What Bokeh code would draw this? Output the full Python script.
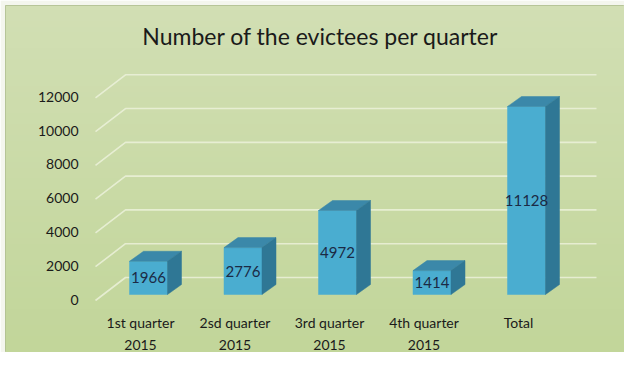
import numpy as np
from bokeh.plotting import figure
from bokeh.models import Range1d
from bokeh.core.properties import value
from bokeh.embed import file_html
from bokeh.resources import INLINE

# ---- data ----
categories = ["1st quarter\n2015", "2sd quarter\n2015", "3rd quarter\n2015", "4th quarter\n2015", "Total"]
evictees = [1966, 2776, 4972, 1414, 11128]
y_ticks = [0, 2000, 4000, 6000, 8000, 10000, 12000]
title_text = "Number of the evictees per quarter"

# ---- layout (pixels of the figure) ----
W, H = 624, 352
M = 5           # white margin left/top
X0 = 148.0      # px of first bar centre
DXC = 94.5      # px between bar centres
Y0 = 294.0      # px (from top) of bar baseline
PXU = 188.0 / 11128.0   # px per unit

def xd(px):
    return (px - X0) / DXC

def yd(py):
    return (Y0 - py) / PXU

UX = 1.0 / DXC   # data per px (x)
UY = 1.0 / PXU   # data per px (y)

p = figure(width=W, height=H, output_backend="svg", toolbar_location=None,
           x_range=Range1d(xd(M), xd(W)), y_range=Range1d(yd(H), yd(M)),
           min_border=0, min_border_left=M, min_border_right=0,
           min_border_top=M, min_border_bottom=0)
p.axis.visible = False
p.grid.visible = False
p.outline_line_color = "#aebd90"
p.outline_line_width = 1
p.background_fill_color = "#c9d9a4"
p.border_fill_color = "#f4f6ee"

# background gradient
n = 64
top = np.array([0xd2, 0xdf, 0xb4])
bot = np.array([0xc2, 0xd6, 0x9a])
img = np.zeros((n, 1), dtype=np.uint32)
view = img.view(dtype=np.uint8).reshape((n, 1, 4))
for r in range(n):
    t = r / (n - 1)  # r=0 is bottom
    c = bot * (1 - t) + top * t
    view[r, 0, 0] = int(c[0]); view[r, 0, 1] = int(c[1]); view[r, 0, 2] = int(c[2]); view[r, 0, 3] = 255
p.image_rgba(image=[img], x=xd(M), y=yd(H), dw=xd(W) - xd(M), dh=yd(M) - yd(H))

# ---- back wall gridlines ----
back_dy = 17 * UY
front_dy = -6 * UY
gx_front, gx_back, gx_end = xd(95), xd(125), xd(596)
grid_xs, grid_ys = [], []
for v in y_ticks:
    grid_xs.append([gx_front, gx_back, gx_end])
    grid_ys.append([v + front_dy, v + back_dy, v + back_dy])
p.multi_line(grid_xs, grid_ys, line_color="#eef3dd", line_alpha=0.8, line_width=1.6)

# ---- 3D bars ----
hw = 19 * UX
ddx = 14 * UX
ddy = 10 * UY
idx = list(range(len(evictees)))
front_l = [i - hw for i in idx]
front_r = [i + hw for i in idx]
p.quad(left=front_l, right=front_r, bottom=[0] * len(idx), top=evictees,
       fill_color="#4aadd0", line_color="#4aadd0", line_width=0.5)
top_xs = [[i - hw, i + hw, i + hw + ddx, i - hw + ddx] for i in idx]
top_ys = [[v, v, v + ddy, v + ddy] for v in evictees]
p.patches(top_xs, top_ys, fill_color="#3b88a9", line_color="#3b88a9", line_width=0.5)
side_xs = [[i + hw, i + hw + ddx, i + hw + ddx, i + hw] for i in idx]
side_ys = [[0, ddy, v + ddy, v] for v in evictees]
p.patches(side_xs, side_ys, fill_color="#2f7795", line_color="#2f7795", line_width=0.5)

# value labels
p.text(x=idx, y=[v / 2 for v in evictees], text=[str(v) for v in evictees],
       text_font=value("Lato"), text_font_size="15px", text_color="#1b2a45",
       text_align="center", text_baseline="middle")

# ---- y tick labels ----
p.text(x=[xd(78)] * len(y_ticks), y=[v - 5 * UY for v in y_ticks], text=[str(v) for v in y_ticks],
       text_font=value("Lato"), text_font_size="14px", text_color="#1a1a1a",
       text_align="right", text_baseline="middle")

# ---- category labels ----
line1 = [c.split("\n")[0] for c in categories]
line2 = [c.split("\n")[1] if "\n" in c else "" for c in categories]
lx = [i - 8 * UX for i in idx]
p.text(x=lx, y=[yd(322)] * len(idx), text=line1, text_font=value("Lato"), text_font_size="14px",
       text_color="#1a1a1a", text_align="center", text_baseline="middle")
p.text(x=lx, y=[yd(344)] * len(idx), text=line2, text_font=value("Lato"), text_font_size="14px",
       text_color="#1a1a1a", text_align="center", text_baseline="middle")

# ---- title ----
p.text(x=[xd(320)], y=[yd(35)], text=[title_text], text_font=value("Lato"), text_font_size="23px",
       text_color="#1a1a1a", text_align="center", text_baseline="middle")

open("out.html", "w").write(file_html(p, INLINE))
